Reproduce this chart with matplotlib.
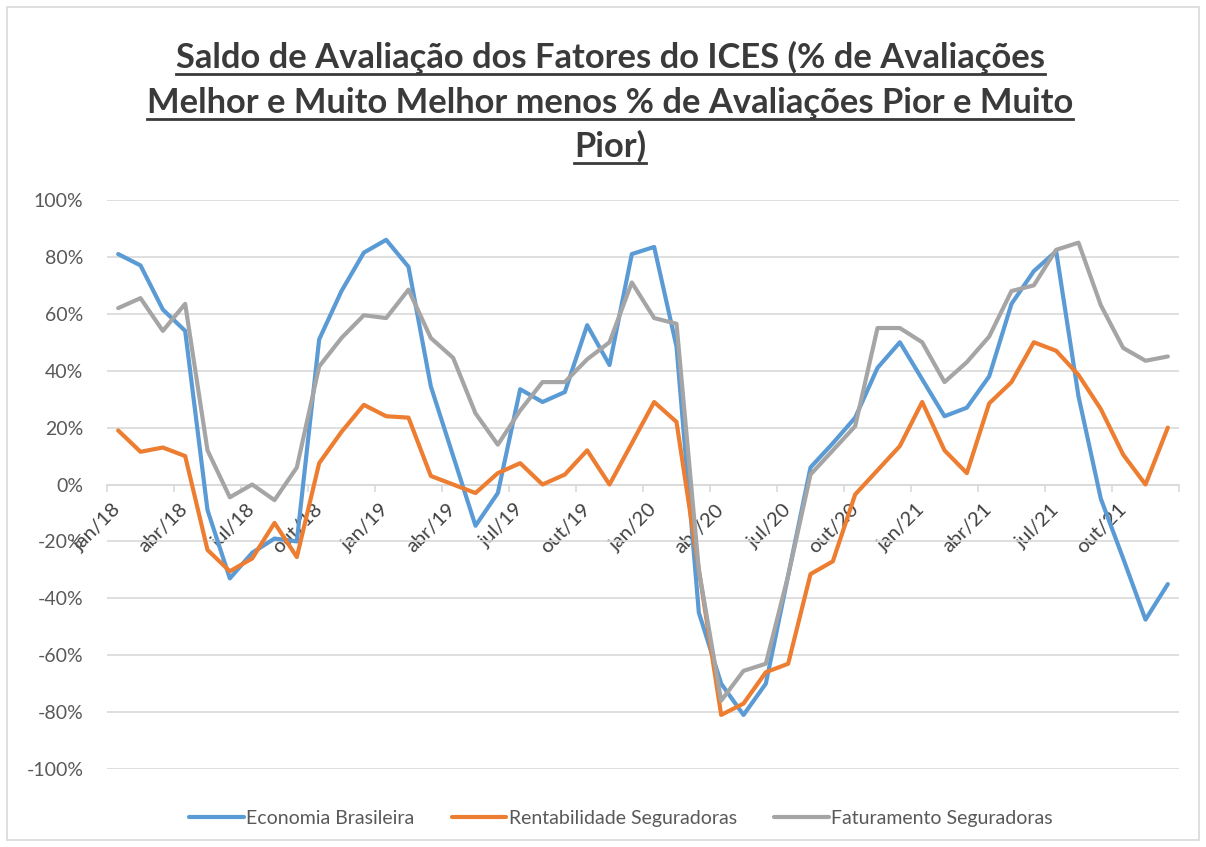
import matplotlib.pyplot as plt
from matplotlib.lines import Line2D
from matplotlib.patches import Rectangle
from matplotlib.ticker import FuncFormatter

# dados mensais jan/18 .. dez/21
meses = ["jan", "fev", "mar", "abr", "mai", "jun", "jul", "ago", "set", "out", "nov", "dez"]
anos = ["18", "19", "20", "21"]

economia_brasileira = [81, 77, 61.5, 54, -9, -33, -24, -19, -20, 51, 68, 81.5,
                       86, 76.5, 34.5, 10, -14.5, -3, 33.5, 29, 32.5, 56, 42, 81,
                       83.5, 48.5, -45, -70, -81, -70, -32, 6, 14.5, 23.5, 41, 50,
                       37, 24, 27, 38, 63.5, 75, 82, 31, -5, -26, -47.5, -35]
rentabilidade_seguradoras = [19, 11.5, 13, 10, -23, -30.5, -26, -13.5, -25.5, 7.5, 18.5, 28,
                             24, 23.5, 3, 0, -3, 4, 7.5, 0, 3.5, 12, 0, 14.5,
                             29, 22, -30, -81, -77, -66, -63, -31.5, -27, -3.5, 5, 13.5,
                             29, 12, 4, 28.5, 36, 50, 47, 38.5, 26.5, 10.5, 0, 20]
faturamento_seguradoras = [62, 65.5, 54, 63.5, 12, -4.5, 0, -5.5, 6, 41.5, 51.5, 59.5,
                           58.5, 68.5, 51.5, 44.5, 25, 14, 26, 36, 36, 44, 50, 71,
                           58.5, 56.5, -30, -76, -65.5, -63, -32, 3.5, 12, 20.5, 55, 55,
                           50, 36, 43, 52, 68, 70, 82.5, 85, 63, 48, 43.5, 45]

series = [
    ("Economia Brasileira", economia_brasileira, "#5B9BD5"),
    ("Rentabilidade Seguradoras", rentabilidade_seguradoras, "#ED7D31"),
    ("Faturamento Seguradoras", faturamento_seguradoras, "#A5A5A5"),
]

titulo = ["Saldo de Avaliação dos Fatores do ICES (% de Avaliações",
          "Melhor e Muito Melhor menos % de Avaliações Pior e Muito",
          "Pior)"]


def main():
    plt.rcParams['font.family'] = ['Lato', 'DejaVu Sans']
    W, H = 1206, 847
    fig = plt.figure(figsize=(W / 100, H / 100), dpi=100)
    ax = fig.add_axes([107 / W, 1 - 769 / H, (1179 - 107) / W, (769 - 200) / H])

    rotulos = [m + "/" + a for a in anos for m in meses]
    x = list(range(len(rotulos)))

    for nome, valores, cor in series:
        ax.plot(x, valores, color=cor, lw=3.0, label=nome, solid_joinstyle='round',
                solid_capstyle='round', zorder=3)

    ax.set_xlim(-0.5, len(x) - 0.5)
    ax.set_ylim(-100, 100)
    ax.set_yticks(range(-100, 101, 20))
    ax.yaxis.set_major_formatter(FuncFormatter(lambda v, p: "%d%%" % v))
    ax.grid(axis='y', color='#d9d9d9', lw=1.2, zorder=0)
    ax.tick_params(axis='y', length=0, pad=17, labelsize=14, labelcolor='#595959')

    for s in ['left', 'right', 'top']:
        ax.spines[s].set_visible(False)
    ax.spines['bottom'].set_position(('data', 0))
    ax.spines['bottom'].set_color('#d9d9d9')
    ax.spines['bottom'].set_linewidth(1.2)

    ax.set_xticks(x[::3])
    ax.set_xticklabels(rotulos[::3], rotation=45, ha='right', va='center',
                       rotation_mode='anchor')
    ax.tick_params(axis='x', which='major', length=0, pad=16, labelsize=14.5,
                   labelcolor='#404040')
    ax.set_xticks([i - 0.5 for i in range(0, len(x) + 1, 3)], minor=True)
    ax.tick_params(axis='x', which='minor', length=5, width=1.2, color='#d9d9d9',
                   direction='out')

    fig.legend(loc='center', bbox_to_anchor=(0.515, 1 - 818 / H), ncol=3, frameon=False,
               fontsize=14, handlelength=2.8, columnspacing=1.9, handletextpad=0.15,
               labelcolor='#595959')

    # borda do grafico
    fig.patches.append(Rectangle((7 / W, 7 / H), 1 - 14 / W, 1 - 14 / H,
                                 transform=fig.transFigure, fill=False,
                                 edgecolor='#d9d9d9', lw=1.2))

    # titulo sublinhado, linha a linha
    baselines = [68, 113, 157]
    textos = []
    for linha, yb in zip(titulo, baselines):
        t = fig.text(0.506, 1 - yb / H, linha, ha='center', va='baseline',
                     fontsize=24.8, fontweight='bold', color='#3a3a3a')
        textos.append((t, yb))
    fig.canvas.draw()
    r = fig.canvas.get_renderer()
    for t, yb in textos:
        bb = t.get_window_extent(r)
        yl = 1 - (yb + 6) / H
        fig.add_artist(Line2D([bb.x0 / W, bb.x1 / W], [yl, yl], transform=fig.transFigure,
                              color='#3a3a3a', lw=2))

    fig.savefig("out.png", dpi=100)
    plt.close()


if __name__ == "__main__":
    main()
